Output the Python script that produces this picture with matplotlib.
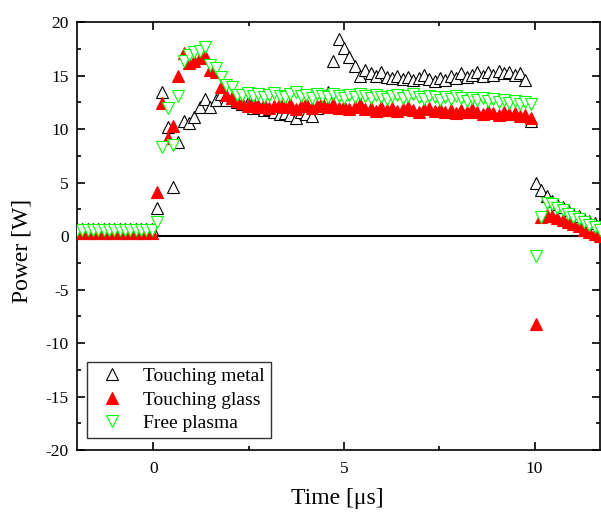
import matplotlib
matplotlib.use('Agg')
import matplotlib.pyplot as plt
from matplotlib.ticker import MultipleLocator

plt.rcParams['font.family'] = ['Liberation Serif', 'DejaVu Serif']
plt.rcParams['axes.unicode_minus'] = False

# time samples [us]
time = [-2.00, -1.86, -1.72, -1.58, -1.44, -1.30, -1.16, -1.02, -0.88, -0.74,
        -0.60, -0.46, -0.32, -0.18, -0.04, 0.10, 0.24, 0.38, 0.52, 0.66,
        0.80, 0.94, 1.08, 1.22, 1.36, 1.50, 1.64, 1.78, 1.92, 2.06,
        2.20, 2.34, 2.48, 2.62, 2.76, 2.90, 3.04, 3.18, 3.32, 3.46,
        3.60, 3.74, 3.88, 4.02, 4.16, 4.30, 4.44, 4.58, 4.72, 4.86,
        5.00, 5.14, 5.28, 5.42, 5.56, 5.70, 5.84, 5.98, 6.12, 6.26,
        6.40, 6.54, 6.68, 6.82, 6.96, 7.10, 7.24, 7.38, 7.52, 7.66,
        7.80, 7.94, 8.08, 8.22, 8.36, 8.50, 8.64, 8.78, 8.92, 9.06,
        9.20, 9.34, 9.48, 9.62, 9.76, 9.90, 10.04, 10.18, 10.32, 10.46,
        10.60, 10.74, 10.88, 11.02, 11.16, 11.30, 11.44, 11.58, 11.72]

metal = [0.65, 0.65, 0.65, 0.65, 0.65, 0.65, 0.65, 0.65, 0.65, 0.65,
         0.65, 0.65, 0.65, 0.65, 0.65, 2.6, 13.5, 10.2, 4.6, 8.8,
         10.8, 10.6, 11.1, 12.1, 12.8, 12.1, 12.7, 13.3, 12.7, 12.9,
         12.5, 12.3, 12.4, 12.0, 12.2, 11.8, 11.9, 11.6, 11.4, 11.5,
         11.3, 11.0, 11.6, 11.4, 11.2, 12.0, 12.4, 13.5, 16.4, 18.4,
         17.6, 16.7, 15.9, 15.0, 15.5, 15.2, 15.0, 15.3, 14.9, 14.8,
         15.0, 14.7, 14.9, 14.6, 14.8, 15.1, 14.7, 14.5, 14.8, 14.6,
         15.0, 14.8, 15.2, 14.9, 15.1, 15.3, 15.0, 15.3, 15.1, 15.4,
         15.2, 15.3, 15.1, 15.2, 14.6, 10.8, 5.0, 4.3, 3.7, 3.3,
         3.0, 2.7, 2.4, 2.1, 1.9, 1.6, 1.4, 1.2, 1.1]

glass = [0.3, 0.3, 0.3, 0.3, 0.3, 0.3, 0.3, 0.3, 0.3, 0.3,
         0.3, 0.3, 0.3, 0.3, 0.3, 4.1, 12.4, 9.2, 10.3, 15.0,
         17.1, 16.2, 16.4, 16.6, 16.8, 15.5, 15.3, 13.9, 13.2, 12.9,
         12.6, 12.4, 12.2, 12.5, 12.1, 12.3, 12.0, 12.2, 12.4, 12.1,
         12.3, 11.9, 12.2, 12.4, 12.0, 12.2, 12.5, 12.1, 12.3, 12.0,
         12.2, 11.9, 12.1, 12.3, 11.9, 12.0, 11.7, 12.1, 11.8, 12.0,
         11.7, 11.9, 12.1, 11.8, 11.6, 11.9, 12.0, 11.7, 11.9, 11.6,
         11.8, 11.5, 11.8, 11.6, 11.9, 11.6, 11.4, 11.7, 11.5, 11.3,
         11.6, 11.4, 11.5, 11.2, 11.3, 11.0, -8.2, 1.8, 2.0, 1.9,
         1.7, 1.5, 1.3, 1.1, 0.9, 0.6, 0.4, 0.2, 0.0]

plasma = [0.6, 0.6, 0.6, 0.6, 0.6, 0.6, 0.6, 0.6, 0.6, 0.6,
          0.6, 0.6, 0.6, 0.6, 0.6, 1.3, 8.3, 12.0, 8.5, 13.1,
          16.4, 16.9, 17.2, 17.3, 17.7, 16.0, 15.7, 14.9, 14.1, 13.9,
          13.2, 13.2, 13.4, 13.1, 13.3, 13.0, 13.2, 13.4, 13.1, 13.0,
          13.3, 13.5, 13.1, 13.2, 12.9, 13.3, 13.1, 13.0, 13.3, 13.1,
          12.9, 13.2, 13.0, 13.3, 13.1, 12.9, 13.2, 13.0, 12.8, 13.1,
          13.2, 12.9, 13.1, 13.3, 13.0, 12.8, 13.1, 13.0, 12.7, 13.0,
          12.8, 13.1, 12.9, 12.6, 12.9, 12.7, 12.9, 12.6, 12.8, 12.5,
          12.7, 12.4, 12.6, 12.3, 12.5, 12.3, -1.9, 1.8, 3.1, 3.0,
          2.6, 2.4, 2.1, 1.8, 1.6, 1.3, 1.0, 0.8, 0.6]

fig = plt.figure(figsize=(6.01, 5.14), dpi=100)
ax = fig.add_axes([0.128, 0.1245, 0.8705, 0.8325])

ax.axhline(0, color='black', lw=1.5, zorder=1)
ax.plot(time, metal, '^', ms=8.5, mfc='white', mec='black', mew=0.8,
        label='Touching metal', zorder=2)
ax.plot(time, glass, '^', ms=8.5, mfc='red', mec='red', mew=0.8,
        label='Touching glass', zorder=3)
ax.plot(time, plasma, 'v', ms=8.5, mfc='white', mec='#00ff00', mew=0.8,
        label='Free plasma', zorder=4)

ax.set_xlim(-2, 11.72)
ax.set_ylim(-20, 20)
ax.xaxis.set_major_locator(MultipleLocator(5))
ax.xaxis.set_minor_locator(MultipleLocator(2.5))
ax.yaxis.set_major_locator(MultipleLocator(5))
ax.yaxis.set_minor_locator(MultipleLocator(2.5))
ax.tick_params(which='both', direction='in', top=True, right=True, width=1.2)
ax.tick_params(which='major', length=6, labelsize=12.5)
ax.tick_params(which='minor', length=3)
ax.tick_params(axis='x', pad=8)
ax.tick_params(axis='y', pad=6)
for sp in ax.spines.values():
    sp.set_linewidth(1.2)

ax.set_xlabel('Time [μs]', fontsize=17)
ax.set_ylabel('Power [W]', fontsize=17)
ax.xaxis.set_label_coords(0.498, -0.088)
ax.yaxis.set_label_coords(-0.084, 0.465)

leg = ax.legend(loc='lower left', bbox_to_anchor=(0.019, 0.028), borderaxespad=0,
                fontsize=14, frameon=True, fancybox=False, labelspacing=0.3,
                handletextpad=0.6, borderpad=0.3, handlelength=2.0)
leg.get_frame().set_edgecolor('black')
leg.get_frame().set_linewidth(1.0)

fig.savefig('out.png', dpi=100)
